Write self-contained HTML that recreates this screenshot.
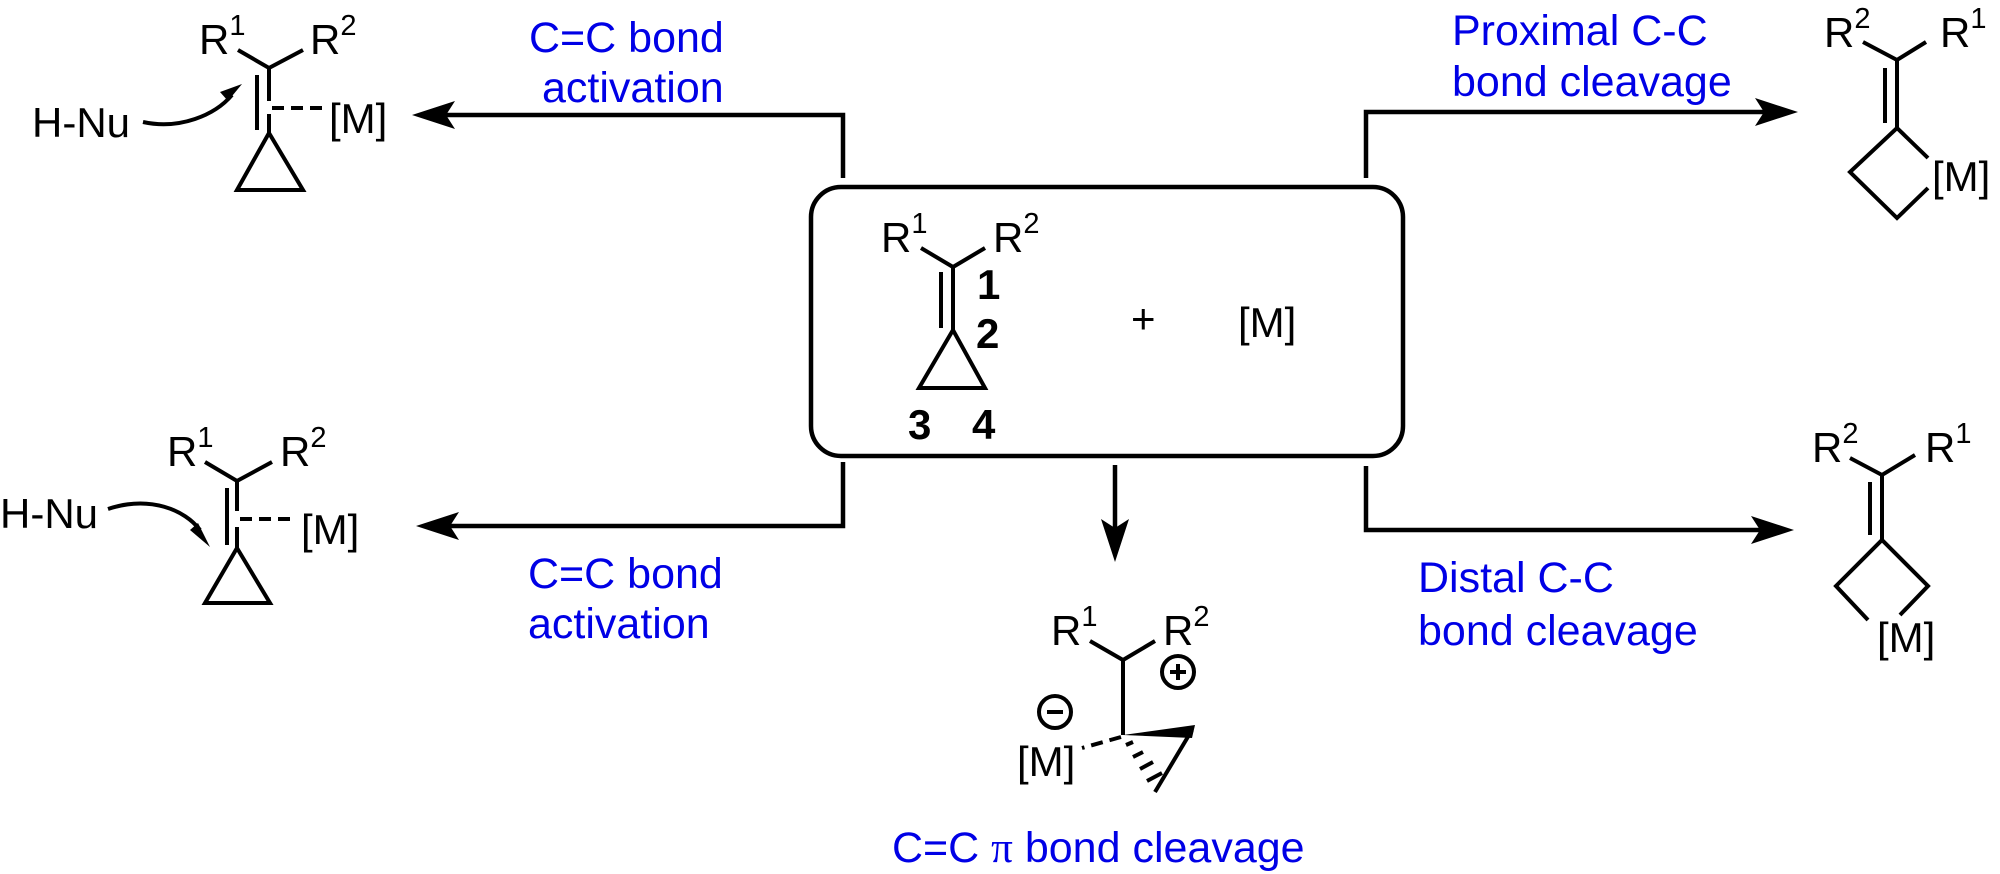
<!DOCTYPE html>
<html><head><meta charset="utf-8"><style>
html,body{margin:0;padding:0;background:#fff}
svg{display:block}
text{font-family:"Liberation Sans",sans-serif}
.b{fill:#0000e6;font-size:43px}
.m{fill:#000;font-size:42px}
.s{font-size:29px}
</style></head><body>
<svg width="2000" height="874" viewBox="0 0 2000 874" xmlns="http://www.w3.org/2000/svg">
<g fill="none" stroke="#000" stroke-width="4.5" stroke-linejoin="miter">
<rect x="811" y="187" width="592" height="269" rx="30" ry="30"/>
<polyline points="843,178 843,115 440,115"/>
<polyline points="1366,178 1366,112 1770,112"/>
<polyline points="843,462 843,526 444,526"/>
<polyline points="1366,466 1366,530 1766,530"/>
<line x1="1115" y1="465" x2="1115" y2="535"/>
</g>
<g fill="#000">
<path d="M412,115 L455,101 L446,115 L455,129 Z"/>
<path d="M1798,112 L1755,98 L1764,112 L1755,126 Z"/>
<path d="M416,526 L459,512 L450,526 L459,540 Z"/>
<path d="M1794,530 L1751,516 L1760,530 L1751,544 Z"/>
<path d="M1115,562 L1101,519 L1115,528 L1129,519 Z"/>
</g>
<text class="b" x="529" y="52">C=C bond</text>
<text class="b" x="542" y="102">activation</text>
<text class="b" x="1452" y="45">Proximal C-C</text>
<text class="b" x="1452" y="96">bond cleavage</text>
<text class="b" x="528" y="588">C=C bond</text>
<text class="b" x="528" y="638">activation</text>
<text class="b" x="1418" y="592">Distal C-C</text>
<text class="b" x="1418" y="645">bond cleavage</text>
<text class="b" x="892" y="862">C=C <tspan font-family="Liberation Serif, serif">π</tspan> bond cleavage</text>

<g fill="none" stroke="#000" stroke-width="4">
<polyline points="238,50 269,68 303,50"/>
<line x1="269" y1="68" x2="269" y2="101"/>
<line x1="269" y1="114" x2="269" y2="133"/>
<line x1="257" y1="75" x2="257" y2="130"/>
<line x1="272" y1="108" x2="326" y2="108" stroke-dasharray="12,7"/>
<polygon points="269,133 237,190 303,190"/>
<path d="M143,122 C180,130 215,115 232,95"/>
<polyline points="205,462 237,481 272,462"/>
<line x1="237" y1="481" x2="237" y2="511"/>
<line x1="237" y1="527" x2="237" y2="548"/>
<line x1="227" y1="488" x2="227" y2="545"/>
<line x1="240" y1="519" x2="296" y2="519" stroke-dasharray="12,7"/>
<polygon points="237,548 205,603 270,603"/>
<path d="M108,509 C150,495 185,510 200,530"/>
<polyline points="921,248 953,267 985,248"/>
<line x1="953" y1="267" x2="953" y2="330"/>
<line x1="941" y1="272" x2="941" y2="328"/>
<polygon points="953,330 919,388 985,388"/>
<polyline points="1090,641 1123,660 1155,641"/>
<line x1="1123" y1="660" x2="1123" y2="735"/>
<line x1="1192" y1="730" x2="1155" y2="792"/>
<line x1="1121" y1="737" x2="1082" y2="748" stroke-dasharray="12,7"/>
<circle cx="1055" cy="712" r="16"/>
<line x1="1047" y1="712" x2="1063" y2="712"/>
<circle cx="1178" cy="672" r="16"/>
<line x1="1170" y1="672" x2="1186" y2="672"/>
<line x1="1178" y1="664" x2="1178" y2="680"/>
<polyline points="1863,42 1897,60 1926,42"/>
<line x1="1897" y1="60" x2="1897" y2="128"/>
<line x1="1885" y1="68" x2="1885" y2="123"/>
<polyline points="1928,158 1897,128 1850,172 1897,218 1928,188"/>
<polyline points="1850,458 1882,475 1915,455"/>
<line x1="1882" y1="475" x2="1882" y2="540"/>
<line x1="1870" y1="482" x2="1870" y2="535"/>
<polyline points="1868,620 1836,586 1882,540 1928,586 1900,615"/>
</g>
<g fill="#000">
<path d="M242,84 L220,92 L228,101 Z"/>
<path d="M210,547 L190,530 L198,523 Z"/>
<path d="M1123,735 L1195,725 L1192,738 Z"/>
</g>
<g stroke="#000" stroke-width="4">
<line x1="1126" y1="745" x2="1133" y2="742"/>
<line x1="1133" y1="757" x2="1143" y2="752"/>
<line x1="1140" y1="769" x2="1153" y2="762"/>
<line x1="1147" y1="781" x2="1162" y2="773"/>
</g>
<text class="m" x="199" y="54">R<tspan class="s" dy="-19">1</tspan></text>
<text class="m" x="310" y="54">R<tspan class="s" dy="-19">2</tspan></text>
<text class="m" x="329" y="133">[M]</text>
<text class="m" x="32" y="137">H-Nu</text>
<text class="m" x="167" y="466">R<tspan class="s" dy="-19">1</tspan></text>
<text class="m" x="280" y="466">R<tspan class="s" dy="-19">2</tspan></text>
<text class="m" x="301" y="544">[M]</text>
<text class="m" x="0" y="528">H-Nu</text>
<text class="m" x="881" y="252">R<tspan class="s" dy="-19">1</tspan></text>
<text class="m" x="993" y="252">R<tspan class="s" dy="-19">2</tspan></text>
<text class="m" x="977" y="299" font-weight="bold">1</text>
<text class="m" x="976" y="348" font-weight="bold">2</text>
<text class="m" x="908" y="439" font-weight="bold">3</text>
<text class="m" x="972" y="439" font-weight="bold">4</text>
<text class="m" x="1131" y="333">+</text>
<text class="m" x="1238" y="337">[M]</text>
<text class="m" x="1051" y="645">R<tspan class="s" dy="-19">1</tspan></text>
<text class="m" x="1163" y="645">R<tspan class="s" dy="-19">2</tspan></text>
<text class="m" x="1017" y="776">[M]</text>
<text class="m" x="1824" y="47">R<tspan class="s" dy="-19">2</tspan></text>
<text class="m" x="1940" y="47">R<tspan class="s" dy="-19">1</tspan></text>
<text class="m" x="1932" y="191">[M]</text>
<text class="m" x="1812" y="462">R<tspan class="s" dy="-19">2</tspan></text>
<text class="m" x="1925" y="462">R<tspan class="s" dy="-19">1</tspan></text>
<text class="m" x="1877" y="652">[M]</text>
</svg>
</body></html>
